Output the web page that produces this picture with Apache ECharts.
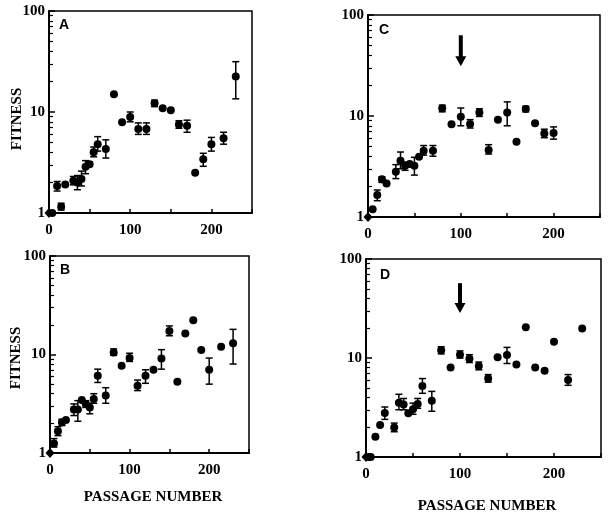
<!DOCTYPE html>
<html>
<head>
<meta charset="utf-8">
<script src="https://cdn.jsdelivr.net/npm/echarts@6/dist/echarts.min.js"></script>
<style>
  html, body { margin: 0; background: #fff; }
  #main { width: 609px; height: 517px; }
</style>
</head>
<body>
<div id="main"></div>
<script>
// passage number / fitness
const passA = [0, 4, 10, 15, 20, 30, 35, 40, 45, 50, 55, 60, 70, 80, 90, 100, 110, 120, 130, 140, 150, 160, 170, 180, 190, 200, 215, 230];
const fitA = [1, 1, 1.85, 1.15, 1.92, 2.09, 2.0, 2.17, 2.87, 3.03, 4.0, 4.8, 4.3, 15, 7.9, 8.9, 6.8, 6.8, 12.2, 10.9, 10.4, 7.5, 7.3, 2.5, 3.4, 4.8, 5.5, 22.5];
// [passage, low, high]
const errA = [[10, 1.65, 2.05], [15, 1.07, 1.25], [30, 1.9, 2.3], [35, 1.7, 2.35], [40, 1.85, 2.6], [45, 2.45, 3.3],
  [50, 2.9, 3.2], [55, 3.6, 4.5], [60, 4.1, 5.7], [70, 3.5, 5.3], [100, 8.0, 10.0], [110, 6.0, 7.8], [120, 6.0, 7.8],
  [130, 11.3, 13.1], [160, 6.9, 8.2], [170, 6.3, 8.3], [190, 2.9, 3.9], [200, 4.1, 5.6], [215, 4.8, 6.3], [230, 13.5, 31.5]];

const passB = [0, 5, 10, 15, 20, 30, 35, 40, 45, 50, 55, 60, 70, 80, 90, 100, 110, 120, 130, 140, 150, 160, 170, 180, 190, 200, 215, 230];
const fitB = [1, 1.25, 1.66, 2.05, 2.16, 2.76, 2.76, 3.45, 3.15, 2.89, 3.53, 6.1, 3.83, 10.5, 7.7, 9.2, 4.83, 6.1, 7.0, 9.1, 17.3, 5.3, 16.3, 22.3, 11.1, 7.0, 12.0, 13.0];
const errB = [[5, 1.15, 1.4], [10, 1.5, 1.85], [15, 1.9, 2.2], [30, 2.4, 3.15], [35, 2.1, 3.4], [45, 2.9, 3.4],
  [50, 2.5, 3.2], [55, 3.2, 4.0], [60, 5.2, 7.1], [70, 3.2, 4.6], [80, 9.8, 11.4], [100, 8.5, 10.3], [110, 4.3, 5.5],
  [120, 5.1, 7.0], [140, 7.1, 11.2], [150, 15.5, 19.5], [200, 5.0, 9.2], [230, 8.0, 18.0]];

const passC = [0, 5, 10, 15, 20, 30, 35, 40, 45, 50, 55, 60, 70, 80, 90, 100, 110, 120, 130, 140, 150, 160, 170, 180, 190, 200];
const fitC = [1, 1.19, 1.65, 2.36, 2.15, 2.81, 3.61, 3.22, 3.35, 3.22, 3.96, 4.54, 4.54, 11.9, 8.27, 9.85, 8.34, 10.8, 4.6, 9.2, 10.8, 5.57, 11.7, 8.5, 6.7, 6.8];
const errC = [[10, 1.45, 1.85], [15, 2.2, 2.5], [30, 2.4, 3.3], [35, 3.0, 4.4], [40, 2.9, 3.5], [50, 2.6, 3.9],
  [60, 4.1, 5.1], [70, 4.0, 5.1], [80, 11.0, 12.8], [100, 8.0, 12.0], [110, 7.6, 9.2], [120, 9.9, 11.8],
  [130, 4.2, 5.2], [150, 8.0, 13.8], [170, 11.0, 12.5], [190, 6.1, 7.4], [200, 5.9, 7.8]];

const passD = [0, 3, 5, 10, 15, 20, 30, 35, 40, 45, 50, 55, 60, 70, 80, 90, 100, 110, 120, 130, 140, 150, 160, 170, 180, 190, 200, 215, 230];
const fitD = [1, 1, 1, 1.6, 2.1, 2.78, 1.99, 3.54, 3.4, 2.76, 3.03, 3.43, 5.2, 3.7, 12.0, 8.0, 10.8, 9.8, 8.3, 6.2, 10.2, 10.7, 8.6, 20.5, 8.0, 7.45, 14.6, 6.0, 19.9];
const errD = [[20, 2.4, 3.2], [30, 1.8, 2.2], [35, 3.0, 4.3], [40, 3.0, 3.9], [50, 2.7, 3.5], [55, 3.1, 3.9],
  [60, 4.4, 6.2], [70, 2.9, 4.6], [80, 11.0, 13.0], [100, 10.0, 11.8], [110, 9.0, 10.8], [120, 7.6, 9.1],
  [130, 5.7, 6.8], [150, 8.8, 12.8], [215, 5.3, 6.8]];

// arrow at passage 100: [passage, tail fitness, tip fitness]
const arrowC = [100, 63, 31];
const arrowD = [100, 57, 28.5];

const serif = 'Liberation Serif';

const panels = [
  { pass: passA, fit: fitA, err: errA, arrow: null, box: { left: 49, top: 11, width: 203, height: 202 } },
  { pass: passC, fit: fitC, err: errC, arrow: arrowC, box: { left: 368, top: 15, width: 232, height: 202 } },
  { pass: passB, fit: fitB, err: errB, arrow: null, box: { left: 50, top: 256, width: 199, height: 197 } },
  { pass: passD, fit: fitD, err: errD, arrow: arrowD, box: { left: 366, top: 259, width: 235, height: 198 } }
];

const chart = echarts.init(document.getElementById('main'));

const option = {
  animation: false,
  backgroundColor: '#fff',
  grid: [],
  xAxis: [],
  yAxis: [],
  series: [],
  graphic: []
};

const labelStyle = { color: '#000', fontFamily: serif, fontWeight: 'bold', fontSize: 15 };

panels.forEach((p, i) => {
  option.grid.push(Object.assign({ show: true, borderColor: '#000', borderWidth: 1.5 }, p.box));
  option.xAxis.push({
    type: 'value', gridIndex: i, min: 0, max: 250, interval: 50,
    axisLine: { onZero: false, lineStyle: { color: '#000', width: 2 } },
    axisTick: { inside: true, length: 4, lineStyle: { color: '#000', width: 1.5 } },
    axisLabel: Object.assign({ margin: 10, formatter: v => (v % 100 === 0 && v < 250) ? String(v) : '' }, labelStyle),
    splitLine: { show: false }
  });
  option.yAxis.push({
    type: 'log', logBase: 10, gridIndex: i, min: 1, max: 100,
    axisLine: { lineStyle: { color: '#000', width: 2 } },
    axisTick: { inside: true, length: 6, lineStyle: { color: '#000', width: 1.5 } },
    minorTick: { show: true, splitNumber: 9, length: 4, lineStyle: { color: '#000', width: 1.2 } },
    axisLabel: Object.assign({ margin: 4 }, labelStyle),
    splitLine: { show: false }
  });

  // error bars
  option.series.push({
    type: 'custom', xAxisIndex: i, yAxisIndex: i, silent: true, clip: false,
    data: p.err, encode: { x: 0, y: [1, 2] },
    renderItem: (params, api) => {
      const lo = api.coord([api.value(0), api.value(1)]);
      const hi = api.coord([api.value(0), api.value(2)]);
      const w = 3.5;
      const st = { stroke: '#000', lineWidth: 1.5 };
      return { type: 'group', children: [
        { type: 'line', shape: { x1: lo[0], y1: lo[1], x2: hi[0], y2: hi[1] }, style: st },
        { type: 'line', shape: { x1: lo[0] - w, y1: lo[1], x2: lo[0] + w, y2: lo[1] }, style: st },
        { type: 'line', shape: { x1: hi[0] - w, y1: hi[1], x2: hi[0] + w, y2: hi[1] }, style: st }
      ] };
    }
  });

  // downward arrow marking passage 100
  if (p.arrow) {
    option.series.push({
      type: 'custom', xAxisIndex: i, yAxisIndex: i, silent: true, clip: false,
      data: [p.arrow],
      renderItem: (params, api) => {
        const tail = api.coord([api.value(0), api.value(1)]);
        const tip = api.coord([api.value(0), api.value(2)]);
        const headH = 10, headW = 5.5;
        return { type: 'group', children: [
          { type: 'rect', shape: { x: tail[0] - 2, y: tail[1], width: 4, height: tip[1] - tail[1] - headH + 1 },
            style: { fill: '#000' } },
          { type: 'polygon', shape: { points: [[tip[0] - headW, tip[1] - headH], [tip[0] + headW, tip[1] - headH], [tip[0], tip[1]]] },
            style: { fill: '#000' } }
        ] };
      }
    });
  }

  option.series.push({
    type: 'scatter', xAxisIndex: i, yAxisIndex: i, clip: false,
    symbolSize: 8, itemStyle: { color: '#000', opacity: 1 },
    data: p.pass.map((x, j) => j === 0
      ? { value: [x, p.fit[j]], symbol: 'diamond', symbolSize: [9, 10] }
      : [x, p.fit[j]])
  });
});

const titleFont = 'bold 15px "' + serif + '"';
const letterFont = 'bold 14px "Liberation Sans"';
const txt = (text, x, y, font, rotation) => ({
  type: 'text', x: x, y: y, rotation: rotation || 0,
  style: { text: text, font: font, fill: '#000', align: 'center', verticalAlign: 'middle' }
});

option.graphic = [
  txt('A', 64, 25, letterFont),
  txt('C', 384, 30, letterFont),
  txt('B', 65, 270, letterFont),
  txt('D', 385, 275, letterFont),
  txt('FITNESS', 17, 119, titleFont, Math.PI / 2),
  txt('FITNESS', 16, 358, titleFont, Math.PI / 2),
  txt('PASSAGE NUMBER', 153, 497, titleFont),
  txt('PASSAGE NUMBER', 487, 506, titleFont)
];

chart.setOption(option);
</script>
</body>
</html>
